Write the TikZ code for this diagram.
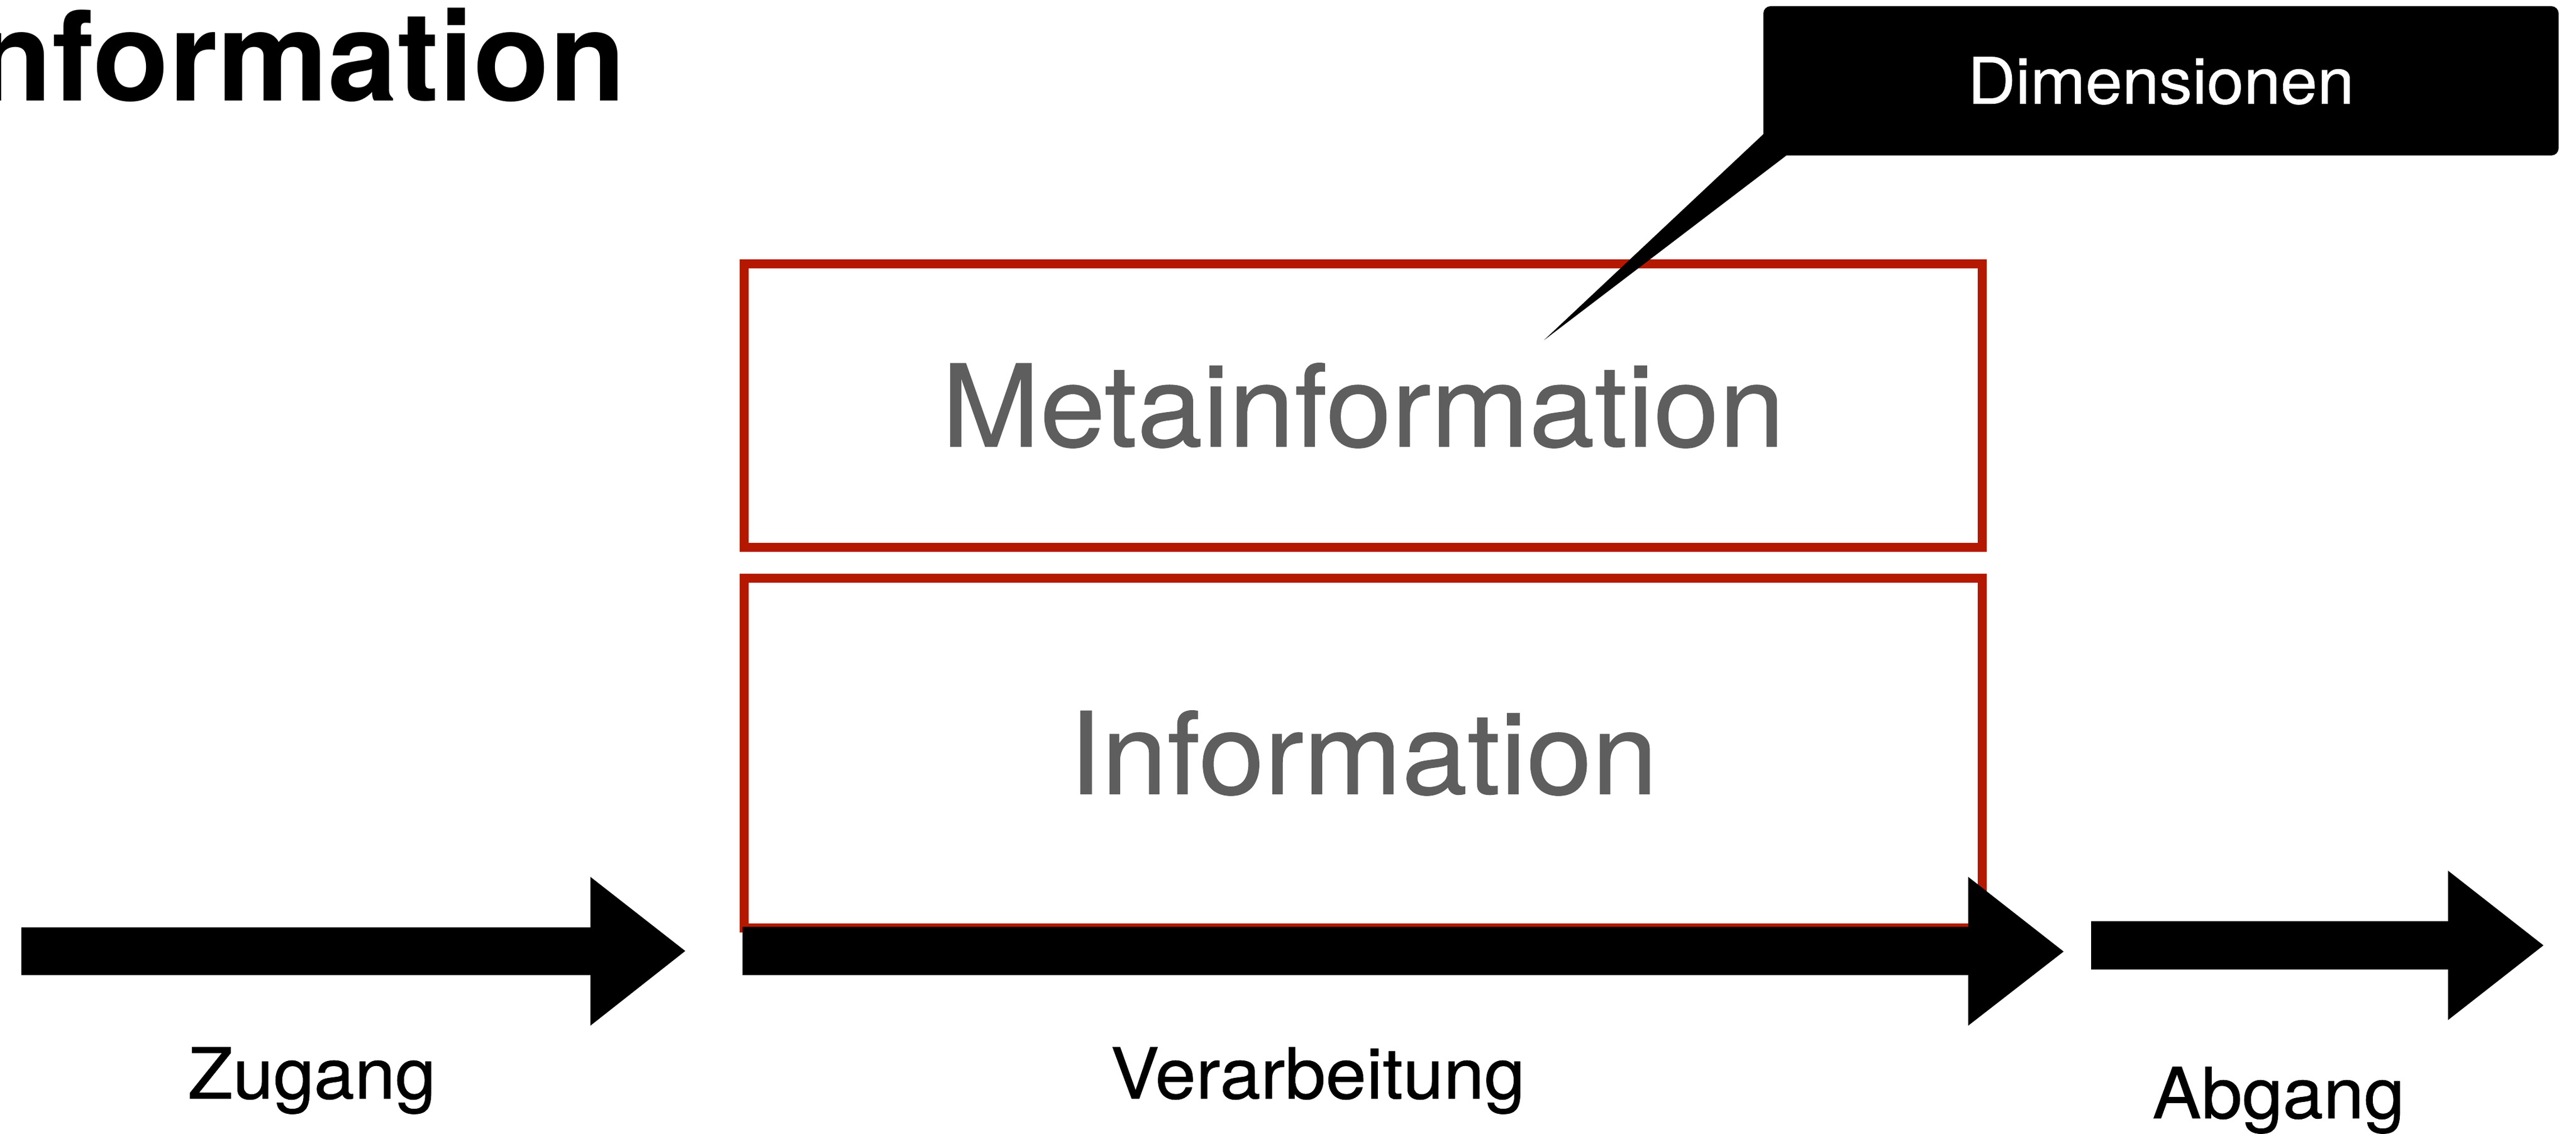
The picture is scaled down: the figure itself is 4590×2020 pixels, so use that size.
\documentclass[tikz,border=0pt]{standalone}
\usepackage{fontspec}
\setmainfont{TeX Gyre Heros}
\newfontfamily\neuefont[FakeStretch=1.035,FakeBold=0.6]{TeX Gyre Heros}
\definecolor{boxred}{RGB}{181,24,0}
\definecolor{txtgray}{RGB}{94,94,94}
\begin{document}
\begin{tikzpicture}[x=0.2pt,y=-0.2pt,
  redbox/.style={draw=boxred, line width=3.2pt, inner sep=0pt, text=txtgray,
                 font=\neuefont\fontsize{40.6}{48}\selectfont, minimum width=441.2pt},
  lbl/.style={font=\neuefont\fontsize{25.2}{30}\selectfont, inner sep=0pt, anchor=base},
  blockarrow/.style={fill=black}]
\useasboundingbox (0,0) rectangle (4590,2020);
\clip (0,0) rectangle (4590,2020);

% title (cut at the left border, as in the reference)
\node[anchor=base east, inner sep=0pt, font=\bfseries\fontsize{44.4}{50}\selectfont] (title) at (1116,180) {Information};

% red boxes
\node[redbox, minimum height=101pt] (meta) at (2429,722.5) {Metainformation};
\node[redbox, minimum height=124.6pt] (info) at (2429,1341.5) {Information};

% block arrows
\coordinate (a1t) at (1221,1694);
\fill[blockarrow] (38,1652) -- (1052,1652) -- (1052,1562) -- (a1t) -- (1052,1827) -- (1052,1737) -- (38,1737) -- cycle;
\coordinate (a2t) at (3677,1695);
\fill[blockarrow] (1323,1651) -- (3507,1651) -- (3507,1562) -- (a2t) -- (3507,1827) -- (3507,1737) -- (1323,1737) -- cycle;
\coordinate (a3t) at (4532,1684);
\fill[blockarrow] (3726,1641) -- (4362,1641) -- (4362,1551) -- (a3t) -- (4362,1817) -- (4362,1727) -- (3726,1727) -- cycle;

% labels
\node[lbl] (zugang) at (556,1957) {Zugang};
\node[lbl] (verarb) at (2348,1957) {Verarbeitung};
\node[lbl] (abgang) at (4060,1992) {Abgang};

% callout
\node[fill=black, rounded corners=2.6pt, minimum width=283.4pt, minimum height=53.2pt,
      inner sep=0pt, text=white, font=\neuefont\fontsize{22.8}{27}\selectfont] (dim) at (3850.5,144) {Dimensionen};
\coordinate (tip) at (2751,606);
\fill (3142,239) -- (tip) -- (3183,277) -- (3183,239) -- cycle;
\end{tikzpicture}
\end{document}
